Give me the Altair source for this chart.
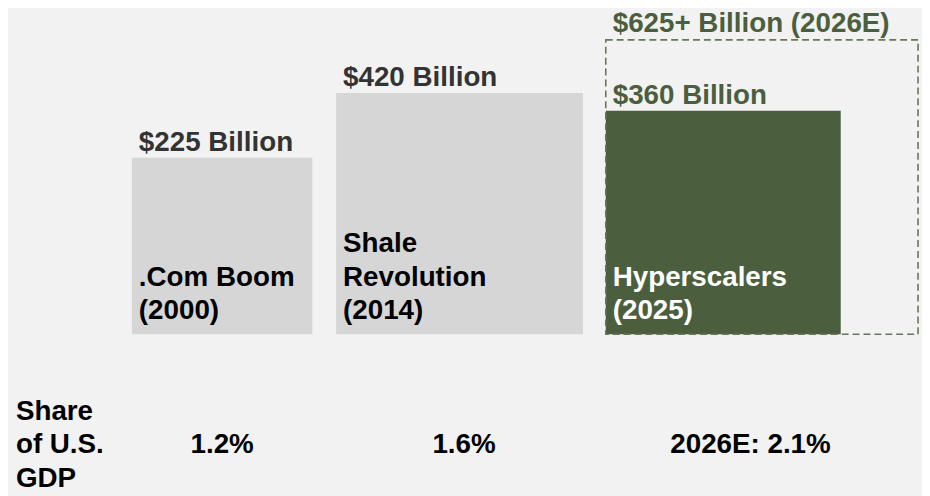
import altair as alt
import pandas as pd

# ---------------- data ----------------
era_keys = ["dotcom", "shale", "hyperscalers"]
era_labels = [".Com Boom\n(2000)", "Shale\nRevolution\n(2014)", "Hyperscalers\n(2025)"]
capex = [225, 420, 360]                       # $ billions
capex_labels = ["$225 Billion", "$420 Billion", "$360 Billion"]
forecast_capex = [625]                        # $ billions, 2026E
forecast_labels = ["$625+ Billion (2026E)"]
gdp_share_labels = ["1.2%", "1.6%", "2026E: 2.1%"]
row_title = ["Share\nof U.S.\nGDP"]

# ---------------- layout (horizontal layout units) ----------------
bar_left = [125, 331, 603]
bar_right = [307, 580, 840]
forecast_left = [603]
forecast_right = [918]
share_center = [216, 460, 749]

W, H = 922, 488
FONT = "Liberation Sans"
FS = 28
LH = 34
GREEN = "#4b5e3d"
GRAY_BAR = "#d6d6d6"

bars = pd.DataFrame({
    "key": era_keys, "era": era_labels, "capex": capex, "label": capex_labels,
    "x0": bar_left, "x1": bar_right, "share": gdp_share_labels, "sx": share_center,
})
fc = pd.DataFrame({"capex": forecast_capex, "label": forecast_labels,
                   "x0": forecast_left, "x1": forecast_right})
title_df = pd.DataFrame({"t": row_title})

xs = alt.Scale(domain=[0, W], range=[0, W], nice=False, zero=False)
ys = alt.Scale(type="sqrt", domain=[0, 625], range=[327, 30], nice=False)

is_green = alt.datum.key == "hyperscalers"

base = alt.Chart(bars)

bar_layer = base.mark_rect().encode(
    x=alt.X("x0:Q", scale=xs, axis=None),
    x2="x1:Q",
    y=alt.Y("capex:Q", scale=ys, axis=None),
    y2=alt.datum(0),
    fill=alt.condition(is_green, alt.value(GREEN), alt.value(GRAY_BAR)),
)

box_layer = alt.Chart(fc).mark_rect(
    fillOpacity=0, stroke="#66775c", strokeWidth=1.6, strokeDash=[7, 4]
).encode(
    x=alt.X("x0:Q", scale=xs, axis=None),
    x2="x1:Q",
    y=alt.Y("capex:Q", scale=ys, axis=None),
    y2=alt.datum(0),
)

amount_text = base.mark_text(
    align="left", baseline="alphabetic", dx=7, dy=-7,
    font=FONT, fontSize=FS, fontWeight="bold",
).encode(
    x=alt.X("x0:Q", scale=xs, axis=None),
    y=alt.Y("capex:Q", scale=ys, axis=None),
    text="label:N",
    color=alt.condition(is_green, alt.value(GREEN), alt.value("#333333")),
)

fc_text = alt.Chart(fc).mark_text(
    align="left", baseline="alphabetic", dx=7, dy=-8,
    font=FONT, fontSize=FS, fontWeight="bold", color=GREEN,
).encode(
    x=alt.X("x0:Q", scale=xs, axis=None),
    y=alt.Y("capex:Q", scale=ys, axis=None),
    text="label:N",
)

era_text = base.transform_calculate(
    off=f"-(length(split(datum.era, '\\n')) - 1) * {LH}"
).mark_text(
    align="left", baseline="alphabetic", dx=7, dy=-15, lineBreak="\n", lineHeight=LH,
    font=FONT, fontSize=FS, fontWeight="bold",
).encode(
    x=alt.X("x0:Q", scale=xs, axis=None),
    y=alt.Y(datum=0, scale=ys, axis=None),
    yOffset=alt.YOffset("off:Q", scale=None),
    text="era:N",
    color=alt.condition(is_green, alt.value("#ffffff"), alt.value("#000000")),
)

share_text = base.mark_text(
    align="center", baseline="alphabetic",
    font=FONT, fontSize=FS, fontWeight="bold", color="#000000",
).encode(
    x=alt.X("sx:Q", scale=xs, axis=None),
    y=alt.value(447),
    text="share:N",
)

title_text = alt.Chart(title_df).mark_text(
    align="left", baseline="alphabetic", lineBreak="\n", lineHeight=LH,
    font=FONT, fontSize=FS, fontWeight="bold", color="#000000",
).encode(
    x=alt.value(8),
    y=alt.value(413),
    text="t:N",
)

chart = alt.layer(
    bar_layer, box_layer, amount_text, fc_text, era_text, share_text, title_text
).properties(
    width=W, height=H, padding=0, autosize="none", background="#f2f2f2"
).configure_view(stroke=None)

chart.save("out.html", embed_options={"renderer": "svg", "actions": False})
